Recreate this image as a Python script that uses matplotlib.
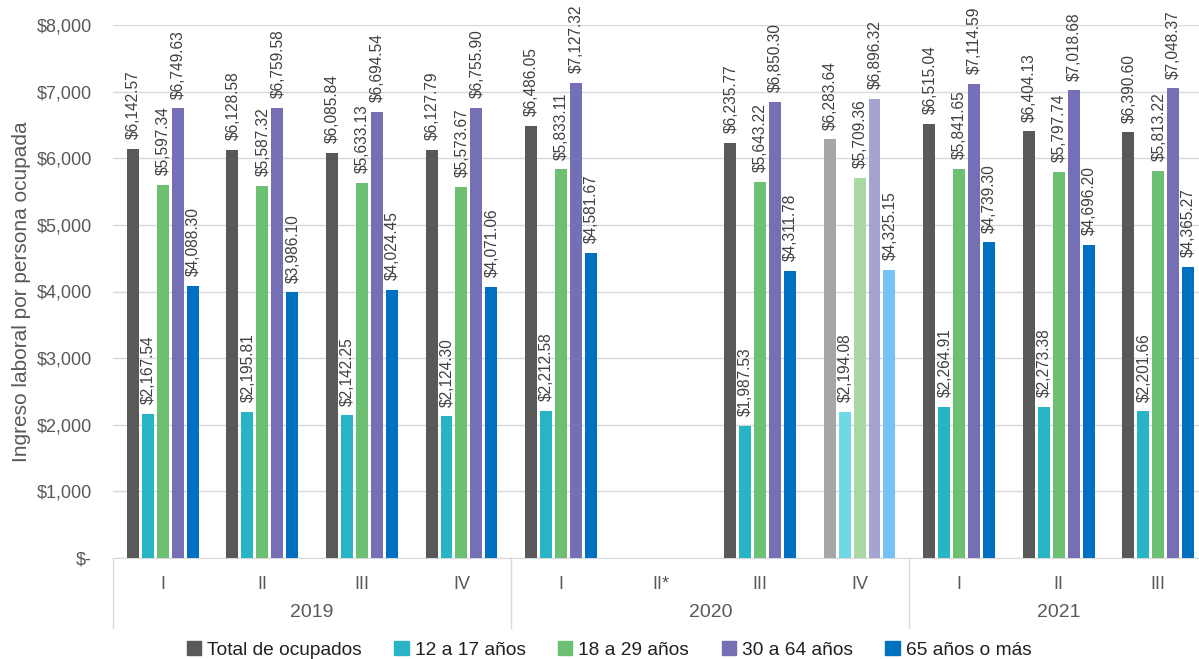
import numpy as np
import matplotlib
matplotlib.use('Agg')
import matplotlib.pyplot as plt
from matplotlib.patches import Patch

plt.rcParams['font.family'] = ['Liberation Sans', 'DejaVu Sans']

# datos
trimestres = ['I', 'II', 'III', 'IV', 'I', 'II*', 'III', 'IV', 'I', 'II', 'III']
anios = ['2019', '2020', '2021']
series = ['Total de ocupados', '12 a 17 años', '18 a 29 años', '30 a 64 años', '65 años o más']

total = [6142.57, 6128.58, 6085.84, 6127.79, 6486.05, np.nan, 6235.77, 6283.64, 6515.04, 6404.13, 6390.60]
e12_17 = [2167.54, 2195.81, 2142.25, 2124.30, 2212.58, np.nan, 1987.53, 2194.08, 2264.91, 2273.38, 2201.66]
e18_29 = [5597.34, 5587.32, 5633.13, 5573.67, 5833.11, np.nan, 5643.22, 5709.36, 5841.65, 5797.74, 5813.22]
e30_64 = [6749.63, 6759.58, 6694.54, 6755.90, 7127.32, np.nan, 6850.30, 6896.32, 7114.59, 7018.68, 7048.37]
e65 = [4088.30, 3986.10, 4024.45, 4071.06, 4581.67, np.nan, 4311.78, 4325.15, 4739.30, 4696.20, 4365.27]
valores = [total, e12_17, e18_29, e30_64, e65]

colores = ['#595959', '#27B4C4', '#6DC072', '#7570B6', '#0070C0']
colores_claros = ['#A6A6A6', '#6ED8E4', '#A9D8A2', '#A5A3CF', '#74C2F6']
claro = 7  # 2020 IV

fig = plt.figure(figsize=(11.99, 6.59), dpi=100)
ax = fig.add_axes([113/1199, 1-558/659, (1208-113)/1199, (558-25)/659])

x = np.arange(len(trimestres))
w = 0.12
paso = 0.15
for j, vals in enumerate(valores):
    cols = [colores_claros[j] if i == claro else colores[j] for i in range(len(x))]
    pos = x + (j-2)*paso
    ax.bar(pos, np.nan_to_num(vals), width=w, color=cols, zorder=3)
    for xp, v in zip(pos, vals):
        if np.isnan(v):
            continue
        ax.annotate('${:,.2f}'.format(v), (xp, v), xytext=(0.5, 7), textcoords='offset points',
                    rotation=90, ha='center', va='bottom', fontsize=11.2, color='#404040')

ax.set_xlim(-0.5, len(x)-0.5)
ax.set_ylim(0, 8000)
ax.set_yticks(np.arange(0, 8001, 1000))
ax.set_yticklabels(['$-'] + ['${:,.0f}'.format(t) for t in np.arange(1000, 8001, 1000)],
                   fontsize=13, color='#595959')
ax.tick_params(axis='y', length=0, pad=15)
ax.tick_params(axis='x', length=0, labelbottom=False)
ax.grid(axis='y', color='#D9D9D9', lw=1, zorder=0)
for s in ['top', 'right', 'left']:
    ax.spines[s].set_visible(False)
ax.spines['bottom'].set_color('#D9D9D9')
ax.set_ylabel('Ingreso laboral por persona ocupada', fontsize=15, color='#595959', labelpad=4)

# eje de categorias en dos niveles
tr = ax.get_xaxis_transform()
for i, t in enumerate(trimestres):
    ax.text(i, -0.05, t, transform=tr, ha='center', va='center', fontsize=13, color='#595959')
grupos = [(0, 4), (4, 8), (8, 11)]
for (a, b), an in zip(grupos, anios):
    ax.text((a+b-1)/2, -0.102, an, transform=tr, ha='center', va='center', fontsize=14, color='#595959')
for s in [-0.5, 3.5, 7.5]:
    ax.plot([s, s], [0, -0.131], transform=tr, color='#D9D9D9', lw=1, clip_on=False)

handles = [Patch(color=c) for c in colores]
fig.legend(handles, series, loc='center', bbox_to_anchor=(0.508, 1-650/659), ncol=5, frameon=False,
           fontsize=13.8, handlelength=0.75, handleheight=0.75, handletextpad=0.3, columnspacing=1.7,
           labelcolor='#202020', borderaxespad=0, borderpad=0)

fig.savefig('out.png', dpi=100)
